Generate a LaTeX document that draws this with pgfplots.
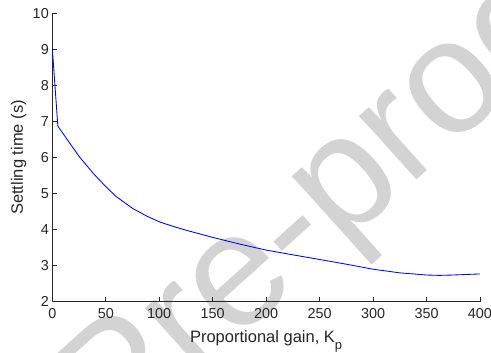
\documentclass[border=0pt]{standalone}
\usepackage{pgfplots}
\pgfplotsset{compat=1.18}
\usepackage{fontspec}
\setmainfont{Liberation Sans}
\definecolor{axgray}{rgb}{0.15,0.15,0.15}
\definecolor{wmgray}{RGB}{211,211,211}
\begin{document}
\begin{tikzpicture}
% watermark (background)
\node[anchor=base west, rotate=42, inner sep=0pt, text=wmgray,
      font=\fontsize{162}{162}\selectfont] at (62.0pt,-150.5pt) {Pre-proof};
\begin{axis}[
  scale only axis,
  width=427.7pt, height=288.4pt,
  at={(0pt,0pt)}, anchor=south west,
  xmin=0, xmax=400, ymin=2, ymax=10,
  axis x line=bottom, axis y line=left,
  axis line style={-, axgray, line width=0.6pt},
  tick align=inside,
  major tick length=4.5pt,
  tick style={axgray, line width=0.6pt},
  xtick={0,50,...,400},
  ytick={2,3,...,10},
  /pgf/number format/assume math mode=true,
  ticklabel style={font=\fontsize{14.4}{15}\selectfont, text=axgray},
  xticklabel style={yshift=-3.5pt},
  label style={font=\fontsize{16.5}{17}\selectfont, text=axgray},
  xlabel={Proportional gain, K\raisebox{-6.5pt}{\fontsize{13}{13}\selectfont p}},
  ylabel={Settling time (s)},
  xlabel style={at={(axis description cs:0.5,0)}, anchor=base, yshift=-41pt},
  ylabel style={at={(axis description cs:0,0.5)}, anchor=center, yshift=33.8pt},
]
\addplot[blue, line width=0.85pt, line join=round] coordinates {
(0,9.03) (5.2,6.87) (16.5,6.39) (25.6,6.01) (29,5.89) (38.3,5.56) (44.3,5.37)
(50.8,5.17) (59.9,4.91) (63.3,4.84) (75.5,4.58) (88,4.38) (100.5,4.21)
(113,4.09) (125.4,3.98) (138,3.88) (150.4,3.78) (175,3.60) (200.3,3.43)
(225,3.30) (250.2,3.17) (275,3.04) (300.2,2.90) (325,2.80) (350,2.74)
(362,2.73) (375,2.74) (400,2.77)
};
\end{axis}
\pgfresetboundingbox
\path[use as bounding box] (-52.3pt,-51.3pt) rectangle (438.7pt,301.7pt);
\end{tikzpicture}
\end{document}
